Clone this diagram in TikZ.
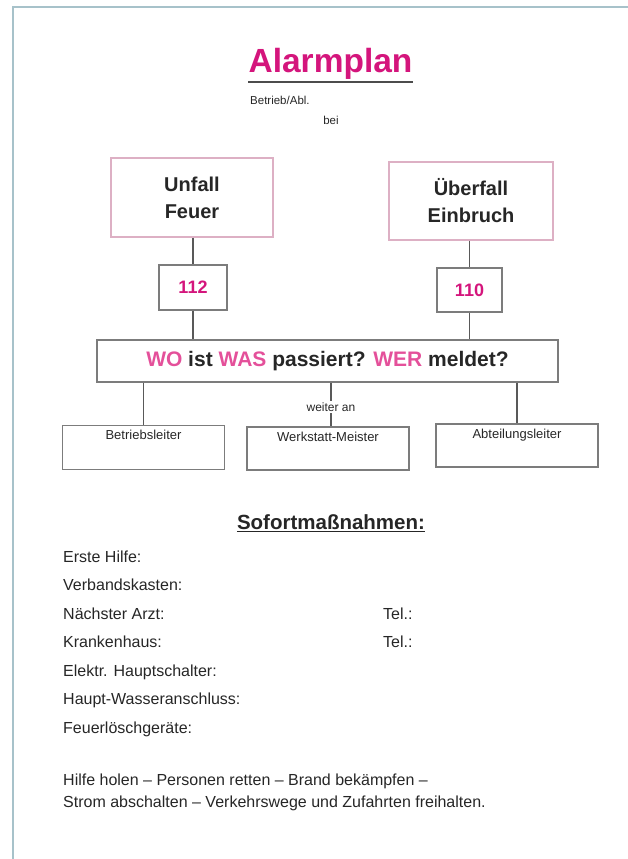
\documentclass[tikz,border=0pt]{standalone}
\usepackage{fontspec}
\setmainfont{Liberation Sans}
\usetikzlibrary{positioning, calc}

\definecolor{alarmpink}{HTML}{D4157C}
\definecolor{lightpink}{HTML}{E4509A}
\definecolor{pinkframe}{HTML}{DDB0C4}
\definecolor{boxgrey}{HTML}{7C7C7C}
\definecolor{pageframe}{HTML}{A7C2CA}
\definecolor{inkgrey}{HTML}{262626}

\tikzset{
  event/.style={draw=pinkframe, line width=1.2pt, minimum width=162pt, minimum height=79pt,
    align=center, text=inkgrey, font=\fontsize{20}{27}\selectfont\bfseries},
  callno/.style={draw=boxgrey, line width=1.2pt, minimum height=45pt,
    text=alarmpink, font=\fontsize{18}{20}\selectfont\bfseries},
  report/.style={draw=boxgrey, line width=1.2pt, minimum width=162pt, minimum height=44pt},
  small/.style={text=inkgrey, font=\fontsize{13}{15}\selectfont},
  entry/.style={anchor=base west, inner xsep=0pt, text=inkgrey, font=\fontsize{16}{18}\selectfont},
  link/.style={draw=black!65, line width=1.2pt}
}

\begin{document}
\begin{tikzpicture}[x=1pt, y=-1pt]
\useasboundingbox (0,0) rectangle (627,859);
\draw[pageframe, line width=2pt] (13,880) -- (13,7) -- (650,7);

% Kopf
\node[anchor=base, inner xsep=0pt, inner ysep=2pt, text=alarmpink,
  font=\fontsize{33.5}{36}\selectfont\bfseries] (titel) at (330.5,73) {Alarmplan};
\draw[black!70, line width=2pt] (titel.south west) -- (titel.south east);
\node[small, anchor=base west, inner xsep=0pt, font=\fontsize{11.5}{13}\selectfont] (betrieb) at (250,104) {Betrieb/Abl.};
\node[small, anchor=base, font=\fontsize{11.5}{13}\selectfont] (bei) at (331,124) {bei};

% Notfall und Notruf
\node[event] (unfall) at (192,197.5) {Unfall\\Feuer};
\node[event, minimum width=164pt, minimum height=78pt] (ueberfall) at (471,201) {Überfall\\Einbruch};
\node[callno, minimum width=68pt] (n112) at (193,287.5) {112};
\node[callno, minimum width=65pt, minimum height=44pt] (n110) at (469.5,290) {110};

\node[draw=boxgrey, line width=1.2pt, minimum width=461pt, minimum height=42pt, text=inkgrey,
  font=\fontsize{21}{24}\selectfont\bfseries] (frage) at (327.5,361)
  {\textcolor{lightpink}{WO} ist \textcolor{lightpink}{WAS} passiert? \textcolor{lightpink}{WER} meldet?};

\draw[link] (unfall.south -| n112.north) -- (n112.north);
\draw[link] (n112.south) -- (n112.south |- frage.north);
\draw[link] (ueberfall.south -| n110.north) -- (n110.north);
\draw[link] (n110.south) -- (n110.south |- frage.north);

% Meldung weiter an
\node[report] (leiter) at (143.5,447.5) {};
\node[small, below=2pt of leiter.north] (leitertext) {Betriebsleiter};
\node[report, minimum height=43pt] (meister) at (328,448.5) {};
\node[small, below=2pt of meister.north] (meistertext) {Werkstatt-Meister};
\node[report, minimum height=43pt] (abteilung) at (517,445.5) {};
\node[small, below=2pt of abteilung.north] (abteilungtext) {Abteilungsleiter};
\node[small, font=\fontsize{12}{13}\selectfont, inner sep=1.5pt] (weiter) at (331,407) {weiter an};

\draw[link] (leiter.north |- frage.south) -- (leiter.north);
\draw[link] (weiter.north |- frage.south) -- (weiter.north);
\draw[link] (weiter.south) -- (weiter.south |- meister.north);
\draw[link] (abteilung.north |- frage.south) -- (abteilung.north);

% Sofortmassnahmen
\node[anchor=base, inner xsep=0pt, inner ysep=2pt, text=inkgrey,
  font=\fontsize{20.5}{23}\selectfont\bfseries] (sofort) at (331,529) {Sofortmaßnahmen:};
\draw[inkgrey, line width=1.6pt] (sofort.south west) -- (sofort.south east);

\node[entry] (hilfe) at (63,562) {Erste Hilfe:};
\node[entry] (verband) at (63,590.5) {Verbandskasten:};
\node[entry] (arzt) at (63,619) {Nächster Arzt:};
\node[entry] (kranken) at (63,647.5) {Krankenhaus:};
\node[entry] (schalter) at (63,676) {Elektr. Hauptschalter:};
\node[entry] (wasser) at (63,704.5) {Haupt-Wasseranschluss:};
\node[entry] (loesch) at (63,733) {Feuerlöschgeräte:};
\node[entry] (telarzt) at (383,619) {Tel.:};
\node[entry] (telkranken) at (383,647.5) {Tel.:};

\node[entry] (regeleins) at (63,785) {Hilfe holen – Personen retten – Brand bekämpfen –};
\node[entry] (regelzwei) at (63,807) {Strom abschalten – Verkehrswege und Zufahrten freihalten.};
\end{tikzpicture}
\end{document}
